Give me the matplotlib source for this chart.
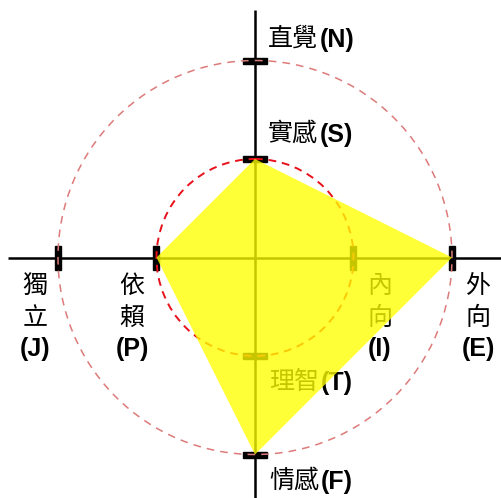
import numpy as np
import matplotlib.pyplot as plt
from matplotlib.patches import Circle, Polygon, Rectangle

# polygon values along the four half-axes (1 = inner ring, 2 = outer ring)
poly_dirs = ['S', 'E', 'F', 'P']
poly_vals = [1, 2, 2, 1]
ring_vals = [1, 2]

# labels: (chinese, letter)
top_outer = ('直覺', '(N)')
top_inner = ('實感', '(S)')
left_outer = ('獨立', '(J)')
left_inner = ('依賴', '(P)')
right_inner = ('內向', '(I)')
right_outer = ('外向', '(E)')
bot_inner = ('理智', '(T)')
bot_outer = ('情感', '(F)')

W, H = 501, 498
cx, cy = 255, 257.5
unit = 98.5

fig = plt.figure(figsize=(W / 100, H / 100), dpi=100)
ax = fig.add_axes([0, 0, 1, 1])
ax.set_xlim(0, W)
ax.set_ylim(H, 0)
ax.axis('off')

# axes lines
ax.plot([8, W], [cy, cy], color='black', lw=1.8, zorder=1, solid_capstyle='butt')
ax.plot([cx, cx], [10, H], color='black', lw=1.8, zorder=1, solid_capstyle='butt')

# ticks at ring crossings
for r in ring_vals:
    d = r * unit
    for dx, dy in [(0, -1), (1, 0), (0, 1), (-1, 0)]:
        px, py = cx + dx * d, cy + dy * d
        if dx == 0:
            ax.add_patch(Rectangle((px - 12, py - 3), 24, 6, color='black', zorder=2))
        else:
            ax.add_patch(Rectangle((px - 3, py - 12), 6, 24, color='black', zorder=2))

# rings
ax.add_patch(Circle((cx, cy), 2 * unit, fill=False, ec='#dd7a7a', lw=1.1,
                    ls=(0, (5, 4)), zorder=3))
ax.add_patch(Circle((cx, cy), 1 * unit, fill=False, ec='#e8101a', lw=1.4,
                    ls=(0, (4, 3)), zorder=3))

cjk = 'Noto Sans CJK TC'
lat = 'Liberation Sans'
fs = 18


def hlabel(x, y, pair):
    ax.text(x, y, pair[0], family=cjk, fontsize=fs, weight='light', va='center',
            ha='left', zorder=4)
    ax.text(x + 52, y + 1, pair[1], family=lat, fontsize=fs, weight='bold',
            va='center', ha='left', zorder=4)


def vlabel(x, y, pair):
    ax.text(x, y, pair[0][0], family=cjk, fontsize=fs, weight='light', va='center',
            ha='center', zorder=4)
    ax.text(x, y + 32, pair[0][1], family=cjk, fontsize=fs, weight='light', va='center',
            ha='center', zorder=4)
    ax.text(x, y + 63, pair[1], family=lat, fontsize=fs, weight='bold',
            va='center', ha='center', zorder=4)


hlabel(268, 39, top_outer)
hlabel(268, 134, top_inner)
hlabel(269, 382, bot_inner)
hlabel(269, 481, bot_outer)
vlabel(35, 286, left_outer)
vlabel(132, 286, left_inner)
vlabel(380, 286, right_inner)
vlabel(478, 286, right_outer)

# data polygon
vec = {'S': (0, -1), 'E': (1, 0), 'F': (0, 1), 'P': (-1, 0)}
pts = [(cx + vec[k][0] * v * unit, cy + vec[k][1] * v * unit)
       for k, v in zip(poly_dirs, poly_vals)]
ax.add_patch(Polygon(pts, closed=True, fc='#ffff00', ec='none', alpha=0.78, zorder=5))

fig.savefig('out.png', dpi=100)
